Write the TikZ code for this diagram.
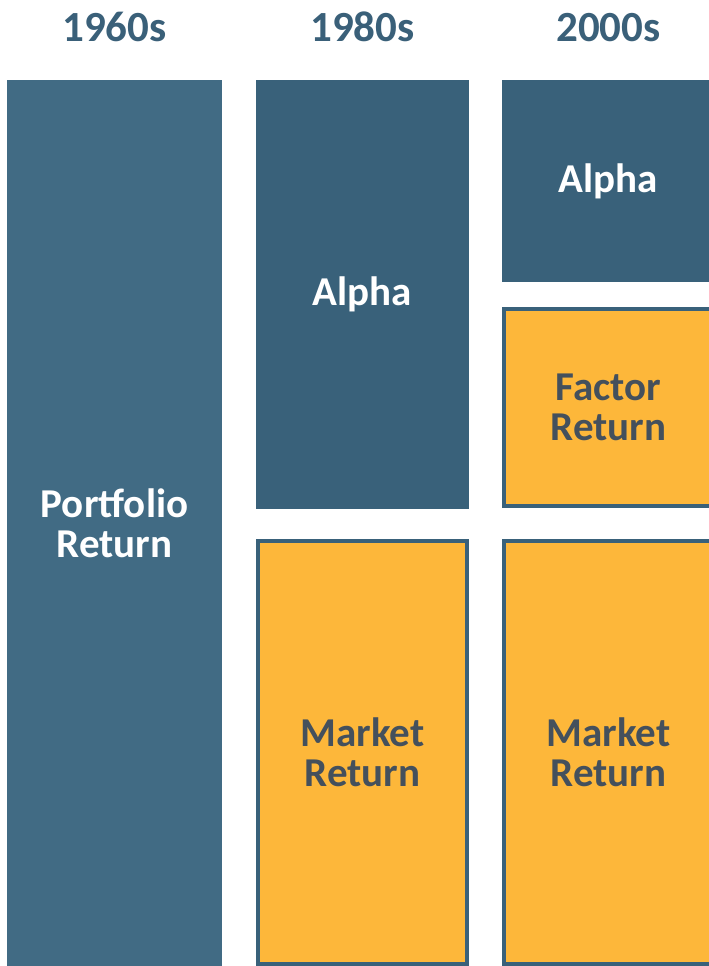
\documentclass[tikz,border=0pt]{standalone}
\usepackage{fontspec}
\setmainfont{Carlito}
\definecolor{bluedark}{HTML}{39617A}
\definecolor{bluelight}{HTML}{416B84}
\definecolor{orangefill}{HTML}{FDB73A}
\definecolor{headtext}{HTML}{3A6079}
\definecolor{graytext}{HTML}{44505C}
\begin{document}
\begin{tikzpicture}[x=1pt,y=-1pt,
  heading/.style={anchor=base,text=headtext,font=\bfseries\fontsize{43}{43}\selectfont,inner sep=0pt},
  bluebox/.style={fill=bluedark,draw=none,inner sep=0pt,outer sep=0pt,text=white,align=center,font=\bfseries\fontsize{41}{40}\selectfont},
  orangebox/.style={fill=orangefill,draw=bluedark,line width=4pt,inner sep=0pt,outer sep=0pt,text=graytext,align=center,font=\bfseries\fontsize{41}{40}\selectfont}]
\useasboundingbox (0,0) rectangle (709,966);
\fill[white] (0,0) rectangle (709,966);
% headings
\node[heading] (h1) at (114.5,42) {1960s};
\node[heading] (h2) at (362.5,42) {1980s};
\node[heading] (h3) at (608.5,42) {2000s};
% 1960s
\node[bluebox,fill=bluelight,minimum width=215pt,minimum height=886pt] (p60) at (114.5,523) {Portfolio\\Return};
% 1980s
\node[bluebox,minimum width=213pt,minimum height=429pt] (a80) at (362.5,294.5) {Alpha};
\node[orangebox,minimum width=209pt,minimum height=423pt] (m80) at (362.5,752.5) {Market\\Return};
% 2000s
\node[bluebox,minimum width=213pt,minimum height=202pt] (a00) at (608.5,181) {Alpha};
\node[orangebox,minimum width=209pt,minimum height=197pt] (f00) at (608.5,407.5) {Factor\\Return};
\node[orangebox,minimum width=209pt,minimum height=423pt] (m00) at (608.5,752.5) {Market\\Return};
\end{tikzpicture}
\end{document}
